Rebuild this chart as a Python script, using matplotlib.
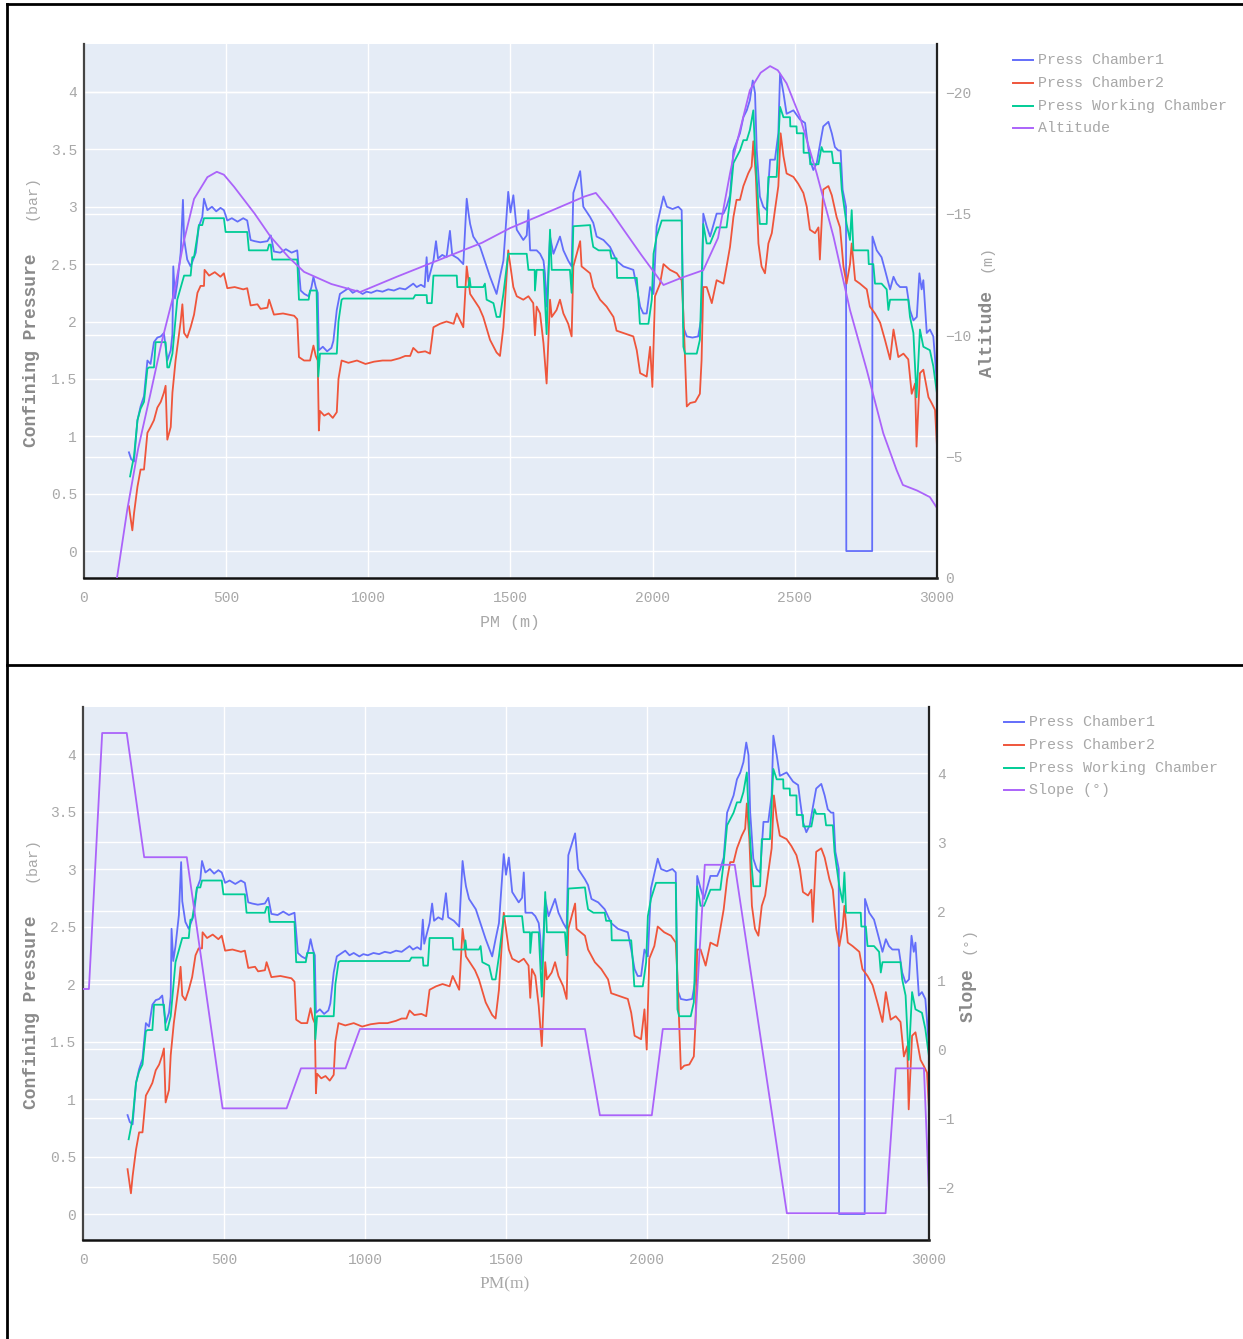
import matplotlib
matplotlib.use("Agg")
import matplotlib.pyplot as plt
from matplotlib.lines import Line2D
from matplotlib.transforms import blended_transform_factory

# ---------------------------------------------------------------------------
# Data: distance along the drive (PM, m) and measured values
# ---------------------------------------------------------------------------
pm_chamber1 = [158, 166, 176, 188, 199, 211, 223, 234, 246, 258, 270, 281, 293, 305, 311, 314,
               320, 328, 340, 348, 352, 363, 375, 393, 404, 416, 422, 434, 450, 465, 480, 492,
               504, 520, 540, 560, 574, 586, 600, 620, 645, 657, 668, 690, 710, 730, 750, 762,
               775, 790, 800, 807, 815, 822, 826, 840, 855, 870, 877, 889, 900, 912, 930, 945,
               960, 980, 994, 1010, 1030, 1050, 1070, 1090, 1110, 1130, 1147, 1158, 1170, 1185,
               1198, 1205, 1210, 1229, 1238, 1245, 1260, 1275, 1287, 1295, 1315, 1334, 1346,
               1352, 1358, 1369, 1393, 1416, 1428, 1451, 1463, 1475, 1492, 1500, 1510, 1522,
               1545, 1557, 1563, 1569, 1592, 1604, 1616, 1621, 1627, 1639, 1651, 1674, 1686,
               1703, 1715, 1721, 1745, 1756, 1780, 1791, 1803, 1827, 1850, 1873, 1897, 1932,
               1944, 1956, 1967, 1979, 1991, 2003, 2014, 2038, 2050, 2070, 2090, 2102, 2108,
               2120, 2140, 2160, 2172, 2178, 2190, 2202, 2225, 2249, 2260, 2272, 2284, 2307,
               2319, 2331, 2342, 2352, 2360, 2366, 2377, 2389, 2401, 2413, 2430, 2442, 2448,
               2460, 2471, 2495, 2518, 2536, 2542, 2553, 2565, 2577, 2589, 2600, 2618, 2630,
               2641, 2653, 2661, 2668, 2680, 2681, 2772, 2773, 2788, 2805, 2817, 2835, 2847,
               2858, 2870, 2893, 2905, 2917, 2929, 2938, 2946, 2952, 2964, 2975, 2987, 3000]
p_chamber1 = [0.86, 0.80, 0.78, 1.14, 1.26, 1.35, 1.66, 1.63, 1.82, 1.86, 1.87, 1.90, 1.66, 1.75, 1.89, 2.48,
              2.20, 2.33, 2.60, 3.06, 2.72, 2.54, 2.48, 2.60, 2.83, 2.91, 3.07, 2.97, 3.00, 2.96, 2.99, 2.97,
              2.88, 2.90, 2.87, 2.90, 2.88, 2.71, 2.70, 2.69, 2.70, 2.75, 2.61, 2.60, 2.63, 2.60, 2.62, 2.27,
              2.24, 2.22, 2.30, 2.39, 2.30, 2.25, 1.75, 1.78, 1.74, 1.77, 1.83, 2.10, 2.24, 2.26, 2.29, 2.25,
              2.27, 2.24, 2.26, 2.25, 2.27, 2.26, 2.28, 2.27, 2.29, 2.28, 2.31, 2.33, 2.30, 2.32,
              2.30, 2.56, 2.35, 2.53, 2.70, 2.55, 2.58, 2.56, 2.79, 2.58, 2.55, 2.50, 3.07,
              2.95, 2.85, 2.74, 2.65, 2.48, 2.39, 2.24, 2.39, 2.53, 3.13, 2.95, 3.10, 2.80,
              2.71, 2.75, 2.97, 2.62, 2.62, 2.59, 2.53, 2.42, 2.13, 2.74, 2.59, 2.74, 2.62,
              2.53, 2.48, 3.12, 3.31, 3.00, 2.91, 2.86, 2.74, 2.71, 2.65, 2.53, 2.48, 2.45,
              2.30, 2.13, 2.07, 2.07, 2.30, 2.24, 2.83, 3.09, 3.00, 2.98, 3.00, 2.97, 1.95,
              1.87, 1.86, 1.87, 2.04, 2.94, 2.83, 2.74, 2.94, 2.94, 3.00, 3.10, 3.49, 3.64,
              3.78, 3.84, 3.93, 4.10, 3.99, 3.49, 3.09, 3.00, 2.97, 3.41, 3.41, 3.64, 4.16,
              3.99, 3.81, 3.84, 3.76, 3.73, 3.61, 3.41, 3.32, 3.38, 3.55, 3.70, 3.74, 3.64,
              3.52, 3.49, 3.49, 3.15, 3.00, 0.00, 0.00, 2.74, 2.62, 2.56, 2.45, 2.28, 2.39,
              2.33, 2.30, 2.30, 2.10, 2.01, 2.04, 2.42, 2.28, 2.36, 1.90, 1.93, 1.87, 1.46]

pm_chamber2 = [158, 170, 176, 188, 199, 211, 223, 234, 246, 258, 270, 281, 287, 293, 305, 311,
               322, 340, 346, 352, 363, 375, 387, 399, 410, 422, 424, 440, 460, 480, 492, 504,
               530, 560, 574, 586, 610, 621, 645, 651, 668, 700, 739, 750, 756, 774, 795, 807,
               815, 822, 826, 830, 845, 860, 875, 889, 895, 906, 930, 960, 990, 1020, 1050,
               1080, 1110, 1130, 1147, 1158, 1175, 1200, 1217, 1229, 1252, 1275, 1300, 1311,
               1334, 1346, 1358, 1390, 1404, 1428, 1451, 1463, 1475, 1492, 1510, 1522, 1545,
               1563, 1580, 1586, 1592, 1604, 1616, 1627, 1639, 1645, 1662, 1674, 1686, 1703,
               1715, 1721, 1745, 1750, 1780, 1791, 1815, 1838, 1862, 1873, 1909, 1932, 1944,
               1956, 1979, 1991, 1999, 2008, 2026, 2038, 2061, 2085, 2102, 2108, 2114, 2120,
               2132, 2150, 2166, 2172, 2178, 2190, 2208, 2225, 2249, 2260, 2272, 2284, 2295,
               2307, 2319, 2336, 2348, 2354, 2363, 2372, 2383, 2395, 2407, 2419, 2430, 2442,
               2450, 2460, 2471, 2495, 2512, 2530, 2542, 2553, 2571, 2583, 2588, 2600, 2618,
               2630, 2647, 2659, 2671, 2682, 2694, 2700, 2712, 2729, 2753, 2764, 2782, 2800,
               2817, 2835, 2847, 2864, 2882, 2899, 2911, 2923, 2928, 2940, 2952, 2970, 2981,
               2993, 3000]
p_chamber2 = [0.39, 0.18, 0.33, 0.56, 0.71, 0.71, 1.03, 1.08, 1.14, 1.25, 1.30, 1.38, 1.44, 0.97, 1.08, 1.38,
              1.66, 2.00, 2.15, 1.90, 1.86, 1.95, 2.06, 2.25, 2.31, 2.31, 2.45, 2.40, 2.43, 2.39, 2.42, 2.29,
              2.30, 2.28, 2.29, 2.14, 2.15, 2.11, 2.12, 2.19, 2.06, 2.07, 2.05, 2.02, 1.69, 1.66, 1.66, 1.79,
              1.70, 1.66, 1.05, 1.22, 1.18, 1.20, 1.16, 1.21, 1.50, 1.66, 1.64, 1.66, 1.63, 1.65, 1.66,
              1.66, 1.68, 1.70, 1.70, 1.77, 1.73, 1.74, 1.72, 1.95, 1.98, 2.00, 1.98, 2.07,
              1.95, 2.48, 2.24, 2.12, 2.04, 1.84, 1.73, 1.70, 1.95, 2.62, 2.30, 2.22, 2.19,
              2.22, 2.16, 1.88, 2.13, 2.07, 1.81, 1.46, 2.19, 2.04, 2.10, 2.19, 2.07, 1.98,
              1.87, 2.48, 2.70, 2.48, 2.42, 2.30, 2.19, 2.13, 2.04, 1.92, 1.89, 1.87, 1.75,
              1.55, 1.52, 1.78, 1.43, 2.22, 2.33, 2.50, 2.45, 2.42, 2.36, 2.07, 1.66, 1.26,
              1.29, 1.30, 1.37, 1.66, 2.30, 2.30, 2.16, 2.36, 2.33, 2.48, 2.65, 2.91, 3.06,
              3.06, 3.18, 3.29, 3.35, 3.57, 3.26, 2.68, 2.48, 2.42, 2.68, 2.77, 2.97, 3.18,
              3.64, 3.44, 3.29, 3.26, 3.20, 3.12, 3.00, 2.80, 2.77, 2.82, 2.54, 3.15, 3.18,
              3.10, 2.91, 2.82, 2.48, 2.33, 2.50, 2.68, 2.36, 2.33, 2.28, 2.13, 2.07, 1.99,
              1.84, 1.67, 1.93, 1.69, 1.72, 1.67, 1.37, 1.46, 0.91, 1.55, 1.58, 1.34, 1.29,
              1.23, 0.91]

pm_working = [162, 176, 188, 199, 211, 223, 229, 246, 252, 258, 281, 287, 293, 299, 311, 328,
              346, 352, 375, 381, 387, 399, 404, 416, 422, 492, 498, 574, 580, 645, 651, 657,
              662, 750, 756, 790, 795, 818, 824, 830, 889, 895, 906, 912, 1158, 1165, 1205,
              1207, 1223, 1229, 1311, 1313, 1352, 1356, 1360, 1404, 1410, 1416, 1440, 1451,
              1463, 1475, 1492, 1557, 1563, 1585, 1586, 1592, 1616, 1627, 1639, 1645, 1709,
              1715, 1721, 1780, 1785, 1791, 1810, 1850, 1855, 1873, 1875, 1944, 1950, 1955,
              1985, 1997, 2003, 2014, 2032, 2102, 2108, 2114, 2155, 2166, 2178, 2190, 2202,
              2225, 2260, 2272, 2284, 2307, 2319, 2331, 2342, 2354, 2360, 2372, 2377, 2401,
              2407, 2436, 2448, 2460, 2483, 2484, 2506, 2507, 2530, 2531, 2553, 2554, 2583,
              2594, 2600, 2630, 2635, 2659, 2665, 2682, 2694, 2700, 2706, 2758, 2760, 2776,
              2782, 2805, 2823, 2829, 2835, 2899, 2905, 2917, 2928, 2940, 2952, 2975, 2987,
              3000]
p_working = [0.65, 0.83, 1.14, 1.24, 1.30, 1.59, 1.60, 1.60, 1.82, 1.82, 1.82, 1.82, 1.60, 1.60, 1.72, 2.19,
             2.35, 2.40, 2.40, 2.56, 2.56, 2.75, 2.84, 2.84, 2.90, 2.90, 2.78, 2.78, 2.62, 2.62, 2.67, 2.67,
             2.54, 2.54, 2.19, 2.19, 2.27, 2.27, 1.52, 1.72, 1.72, 2.00, 2.19, 2.20, 2.20, 2.23, 2.23,
             2.16, 2.16, 2.40, 2.40, 2.30, 2.30, 2.38, 2.30, 2.30, 2.33, 2.19, 2.16, 2.04,
             2.04, 2.24, 2.59, 2.59, 2.45, 2.45, 2.27, 2.45, 2.45, 1.89, 2.80, 2.45, 2.45,
             2.25, 2.83, 2.84, 2.74, 2.65, 2.62, 2.62, 2.55, 2.55, 2.38, 2.38, 2.19, 1.98,
             1.98, 2.19, 2.59, 2.74, 2.88, 2.88, 1.78, 1.72, 1.72, 1.84, 2.85, 2.68, 2.68,
             2.82, 2.82, 3.06, 3.38, 3.49, 3.58, 3.58, 3.67, 3.84, 3.49, 3.00, 2.85, 2.85,
             3.26, 3.26, 3.87, 3.78, 3.78, 3.70, 3.70, 3.64, 3.64, 3.47, 3.47, 3.37, 3.37,
             3.52, 3.48, 3.48, 3.38, 3.38, 3.15, 2.85, 2.71, 2.97, 2.62, 2.62, 2.50, 2.50,
             2.33, 2.33, 2.28, 2.10, 2.19, 2.19, 2.04, 1.90, 1.34, 1.93, 1.78, 1.75, 1.61,
             1.37]

# Tunnel altitude (m) and slope (deg) profiles
pm_altitude = [116, 152, 190, 234, 275, 316, 350, 387, 434, 467, 492, 528, 600, 656, 720,
               774, 870, 971, 1100, 1250, 1400, 1498, 1600, 1700, 1760, 1800, 1850, 1900,
               1960, 2038, 2100, 2178, 2230, 2272, 2284, 2342, 2380, 2413, 2440, 2471, 2518,
               2577, 2636, 2694, 2753, 2811, 2858, 2880, 2930, 2975, 3000]
altitude = [0.0, -2.8, -5.3, -7.6, -9.8, -11.7, -13.8, -15.6, -16.5, -16.72, -16.6, -16.1,
            -15.0, -14.05, -13.2, -12.6, -12.1, -11.77, -12.4, -13.1, -13.8, -14.4, -14.9,
            -15.4, -15.7, -15.85, -15.14, -14.3, -13.3, -12.06, -12.35, -12.67, -14.0, -16.65,
            -17.34, -20.08, -20.8, -21.07, -20.9, -20.36, -18.98, -16.65, -14.05, -11.03,
            -8.56, -5.96, -4.44, -3.83, -3.6, -3.33, -2.88]

pm_slope = [0, 21, 68, 155, 217, 368, 495, 722, 773, 931, 982, 1780, 1833, 2017, 2056, 2170,
            2205, 2311, 2496, 2846, 2882, 2982, 3000]
slope = [0.87, 0.87, 4.58, 4.58, 2.78, 2.78, -0.86, -0.86, -0.28, -0.28, 0.29, 0.29, -0.96,
         -0.96, 0.29, 0.29, 2.67, 2.67, -2.38, -2.38, -0.28, -0.28, -2.1]

left_ticks = [0, 0.5, 1, 1.5, 2, 2.5, 3, 3.5, 4]
left_labels = ["0", "0.5", "1", "1.5", "2", "2.5", "3", "3.5", "4"]
x_ticks = [0, 500, 1000, 1500, 2000, 2500, 3000]
alt_ticks = [0, -5, -10, -15, -20]
alt_labels = ["0", "\u22125", "\u221210", "\u221215", "\u221220"]
slope_ticks = [-2, -1, 0, 1, 2, 3, 4]
slope_labels = ["\u22122", "\u22121", "0", "1", "2", "3", "4"]

series_names = ["Press Chamber1", "Press Chamber2", "Press Working Chamber"]

# ---------------------------------------------------------------------------
# Styling
# ---------------------------------------------------------------------------
W, H = 1243, 1339
BG = "#E5ECF6"
C_BLUE = "#636EFA"
C_RED = "#EF553B"
C_GREEN = "#00CC96"
C_PURPLE = "#AB63FA"
TICK_C = "#a8a8a8"
TITLE_C = "#8a8a8a"
MONO = "Liberation Mono"
SERIF = "Liberation Serif"

fig = plt.figure(figsize=(W / 100, H / 100), dpi=100)


def fx(px):
    return px / W


def fy(py):
    return 1 - py / H


def panel(x0, x1, y0, y1, lim_left, lim_right, r_ticks, r_labels,
          pm_right, v_right, right_name):
    ax = fig.add_axes([fx(x0), fy(y1), fx(x1) - fx(x0), fy(y0) - fy(y1)])
    ax.set_facecolor(BG)
    ax.set_xlim(0, 3000)
    ax.set_ylim(*lim_left)
    ax.set_axisbelow(True)
    ax.set_xticks(x_ticks)
    ax.set_xticklabels([str(t) for t in x_ticks])
    ax.set_yticks(left_ticks)
    ax.set_yticklabels(left_labels)
    ax.grid(True, color="white", lw=1.0)
    ax.tick_params(length=0, labelsize=10.5, labelcolor=TICK_C, pad=5)
    ax.tick_params(axis="x", pad=9)
    for lab in ax.get_xticklabels() + ax.get_yticklabels():
        lab.set_fontfamily(MONO)
    for s in ("top", "right"):
        ax.spines[s].set_visible(False)
    ax.spines["left"].set_color("#444444")
    ax.spines["left"].set_linewidth(1.6)
    ax.spines["bottom"].set_color("#111111")
    ax.spines["bottom"].set_linewidth(1.8)

    ax2 = ax.twinx()
    ax2.set_ylim(*lim_right)
    ax2.set_yticks(r_ticks)
    ax2.set_yticklabels(r_labels)
    ax2.tick_params(length=0, labelsize=10.5, labelcolor=TICK_C, pad=6)
    for lab in ax2.get_yticklabels():
        lab.set_fontfamily(MONO)
    for s in ("top", "left", "bottom"):
        ax2.spines[s].set_visible(False)
    ax2.spines["right"].set_color("#222222")
    ax2.spines["right"].set_linewidth(1.6)

    # gridlines belonging to the secondary axis, drawn under the traces
    tr = blended_transform_factory(ax.transAxes, ax2.transData)
    for v in r_ticks:
        ax.plot([0, 1], [v, v], transform=tr, color="white", lw=1.0, zorder=0.6)

    ax.plot(pm_chamber1, p_chamber1, color=C_BLUE, lw=1.3, zorder=2)
    ax.plot(pm_chamber2, p_chamber2, color=C_RED, lw=1.3, zorder=2.1)
    ax.plot(pm_working, p_working, color=C_GREEN, lw=1.3, zorder=2.2)
    ax2.plot(pm_right, v_right, color=C_PURPLE, lw=1.3)
    return ax, ax2


def legend(x_line, y_first, last_label):
    colors = [C_BLUE, C_RED, C_GREEN, C_PURPLE]
    labels = series_names + [last_label]
    for i, (c, lab) in enumerate(zip(colors, labels)):
        y = y_first + i * 22.8
        fig.add_artist(Line2D([fx(x_line), fx(x_line + 20)], [fy(y), fy(y)],
                              color=c, lw=1.4))
        fig.text(fx(x_line + 25), fy(y), lab, fontsize=10.8, family=MONO,
                 color=TICK_C, va="center", ha="left")


# ---- top panel: pressures and altitude ----
panel(84, 937, 44, 578, (-0.235, 4.418), (0, -21.98), alt_ticks, alt_labels,
      pm_altitude, altitude, "Altitude")
fig.text(fx(32), fy(350), "Confining Pressure", rotation=90, fontsize=13,
         fontweight="bold", family=MONO, color=TITLE_C, ha="center", va="center")
fig.text(fx(32), fy(197), "(bar)", rotation=90, fontsize=10.8, family=MONO,
         color=TICK_C, ha="center", va="center")
fig.text(fx(987), fy(334), "Altitude", rotation=90, fontsize=13,
         fontweight="bold", family=MONO, color=TITLE_C, ha="center", va="center")
fig.text(fx(987), fy(258), "(m)", rotation=90, fontsize=10.8, family=MONO,
         color=TICK_C, ha="center", va="center")
fig.text(fx(510), fy(622), "PM (m)", fontsize=12, family=MONO, color=TICK_C,
         ha="center", va="center")
legend(1013, 60, "Altitude")

# ---- bottom panel: pressures and slope ----
panel(83, 929, 707, 1240, (-0.226, 4.409), (-2.768, 4.957), slope_ticks, slope_labels,
      pm_slope, slope, "Slope")
fig.text(fx(32), fy(1012), "Confining Pressure", rotation=90, fontsize=13,
         fontweight="bold", family=MONO, color=TITLE_C, ha="center", va="center")
fig.text(fx(32), fy(860), "(bar)", rotation=90, fontsize=10.8, family=MONO,
         color=TICK_C, ha="center", va="center")
fig.text(fx(968), fy(995), "Slope", rotation=90, fontsize=13,
         fontweight="bold", family=MONO, color=TITLE_C, ha="center", va="center")
fig.text(fx(968), fy(940), "(\u00b0)", rotation=90, fontsize=10.8, family=MONO,
         color=TICK_C, ha="center", va="center")
fig.text(fx(505), fy(1284), "PM(m)", fontsize=12.5, family=SERIF, color=TICK_C,
         ha="center", va="center")
legend(1004, 722, "Slope (\u00b0)")

# ---- page frame ----
for xs, ys in (([7, W], [4, 4]), ([7, W], [665, 665]), ([7, 7], [4, H])):
    fig.add_artist(Line2D([fx(v) for v in xs], [fy(v) for v in ys], color="black", lw=2))

fig.savefig("out.png", dpi=100, facecolor="white")
